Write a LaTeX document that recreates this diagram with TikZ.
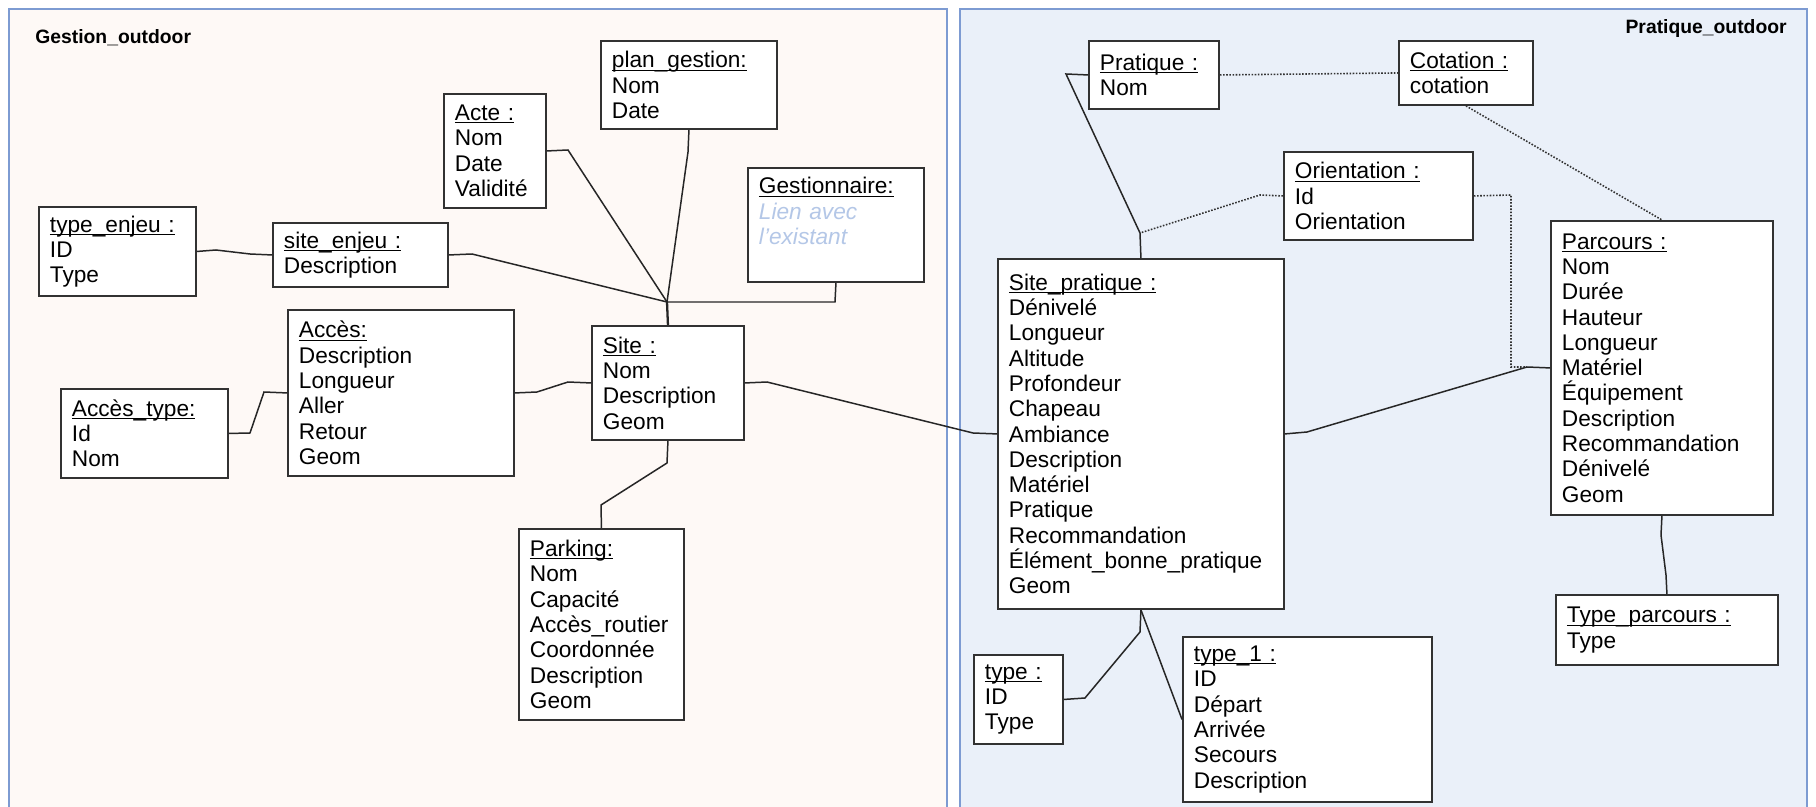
\documentclass[tikz,border=0pt]{standalone}
\usepackage{fontspec}
\setmainfont{Liberation Sans}
\usepackage{xcolor}
\usetikzlibrary{positioning, calc}
\definecolor{gestfill}{RGB}{254, 249, 246}
\definecolor{pratfill}{RGB}{234, 240, 249}
\definecolor{panelline}{RGB}{125, 155, 210}
\definecolor{hintblue}{RGB}{180, 199, 231}
\definecolor{boxline}{RGB}{50, 50, 50}
\newcommand{\ulname}[1]{\setbox0\hbox{#1}\rlap{\rule[-1.6pt]{\wd0}{0.6pt}}\box0}
\tikzstyle{entity} = [rectangle, draw=boxline, line width=1.1pt, fill=white, anchor=north west, align=left, inner xsep=0.22cm, inner ysep=0pt, text=black, font=\fontsize{12.9}{14.4}\selectfont]
\tikzstyle{link} = [line width=0.85pt, draw=black!85]
\tikzstyle{dotlink} = [line width=0.9pt, draw=black!80, dash pattern=on 0.9pt off 0.9pt]
\tikzstyle{panel} = [draw=panelline, line width=1pt]
\tikzstyle{paneltitle} = [font=\fontsize{11}{13}\selectfont\bfseries, inner sep=0pt, text=black]

\begin{document}
\begin{tikzpicture}[x=0.02cm, y=-0.02cm]
\useasboundingbox (0,0) rectangle (1816,807);
\clip (0,0) rectangle (1816,807);

% Panels
\draw [panel, fill=gestfill] (9,9) rectangle (947,840);
\draw [panel, fill=pratfill] (960,9) rectangle (1807,840);
\node (gtitle) [paneltitle, anchor=west] at (35,38) {Gestion\_outdoor};
\node (ptitle) [paneltitle, anchor=east] at (1787,29) {Pratique\_outdoor};

% Gestion side
\node (plan) [entity, minimum width=3.52cm, minimum height=1.76cm, text width=3.08cm] at (600,40) {\ulname{plan\_gestion:}\\Nom\\Date};
\node (acte) [entity, minimum width=2.04cm, minimum height=2.28cm, text width=1.60cm] at (443,93) {\ulname{Acte :}\\Nom\\Date\\Validité};
\node (gest) [entity, minimum width=3.52cm, minimum height=2.28cm, text width=3.08cm, text depth=44.7pt] at (747,167) {\ulname{Gestionnaire:}\\{\color{hintblue}\itshape Lien avec}\\{\color{hintblue}\itshape l'existant}};
\node (typeenjeu) [entity, minimum width=3.14cm, minimum height=1.78cm, text width=2.70cm] at (38,206) {\ulname{type\_enjeu :}\\ID\\Type};
\node (siteenjeu) [entity, minimum width=3.50cm, minimum height=1.28cm, text width=3.06cm] at (272,222) {\ulname{site\_enjeu :}\\Description};
\node (acces) [entity, minimum width=4.52cm, minimum height=3.32cm, text width=4.08cm] at (287,309) {\ulname{Accès:}\\Description\\Longueur\\Aller\\Retour\\Geom};
\node (accestype) [entity, minimum width=3.34cm, minimum height=1.78cm, text width=2.90cm] at (60,388) {\ulname{Accès\_type:}\\Id\\Nom};
\node (site) [entity, minimum width=3.04cm, minimum height=2.28cm, text width=2.60cm] at (591,325) {\ulname{Site :}\\Nom\\Description\\Geom};
\node (parking) [entity, minimum width=3.30cm, minimum height=3.82cm, text width=2.86cm] at (518,528) {\ulname{Parking:}\\Nom\\Capacité\\Accès\_routier\\Coordonnée\\Description\\Geom};

% Pratique side
\node (pratique) [entity, minimum width=2.60cm, minimum height=1.36cm, text width=2.16cm] at (1088,40) {\ulname{Pratique :}\\Nom};
\node (cotation) [entity, minimum width=2.68cm, minimum height=1.28cm, text width=2.24cm] at (1398,40) {\ulname{Cotation :}\\cotation};
\node (orient) [entity, minimum width=3.78cm, minimum height=1.76cm, text width=3.34cm] at (1283,151) {\ulname{Orientation :}\\Id\\Orientation};
\node (sitepratique) [entity, minimum width=5.72cm, minimum height=7.00cm, text width=5.28cm] at (997,258) {\ulname{Site\_pratique :}\\Dénivelé\\Longueur\\Altitude\\Profondeur\\Chapeau\\Ambiance\\Description\\Matériel\\Pratique\\Recommandation\\Élément\_bonne\_pratique\\Geom};
\node (parcours) [entity, minimum width=4.44cm, minimum height=5.88cm, text width=4.00cm] at (1550,220) {\ulname{Parcours :}\\Nom\\Durée\\Hauteur\\Longueur\\Matériel\\Équipement\\Description\\Recommandation\\Dénivelé\\Geom};
\node (typeparcours) [entity, minimum width=4.44cm, minimum height=1.40cm, text width=4.00cm] at (1555,594) {\ulname{Type\_parcours :}\\Type};
\node (type) [entity, minimum width=1.78cm, minimum height=1.78cm, text width=1.34cm] at (973,654) {\ulname{type :}\\ID\\Type};
\node (typeun) [entity, minimum width=4.98cm, minimum height=3.30cm, text width=4.54cm] at (1182,636) {\ulname{type\_1 :}\\ID\\Départ\\Arrivée\\Secours\\Description};

% Junctions
\coordinate (hub) at (667,302);
\coordinate (jn) at (1140,233);
\coordinate (pj) at (1527,367);
\coordinate (tj) at (1140,632);

% Gestion links
\draw [link] (typeenjeu.east) -- (216,250) -- (250,254) -- (siteenjeu.west);
\draw [link] (siteenjeu.east) -- (472,254) -- (hub);
\draw [link] (acte.east) -- (568,150) -- (hub);
\draw [link] (plan.south) -- (688,152) -- (hub);
\draw [link] (gest.south) -- (835,302) -- (hub);
\draw [link, line width=1.3pt] (hub) -- (site.north);
\draw [link] (site.west) -- (568,382) -- (537,392) -- (acces.east);
\draw [link] (acces.west) -- (264,392) -- (250,433) -- (accestype.east);
\draw [link] (site.south) -- (667,463) -- (601,505) -- (parking.north);
\draw [link] (site.east) -- (767,382) -- (973,433) -- (sitepratique.west);

% Pratique links
\draw [link] (pratique.west) -- (1066,74) -- (jn) -- (sitepratique.north);
\draw [dotlink] (orient.west) -- (1260,195) -- (jn);
\draw [dotlink] (pratique.east) -- (cotation.west);
\draw [dotlink] (cotation.south) -- (parcours.north);
\draw [dotlink] (orient.east) -- (1511,195) -- (1511,367) -- (pj);
\draw [link] (parcours.west) -- (pj) -- (1307,432) -- (sitepratique.east);
\draw [link] (sitepratique.south) -- (tj) -- (1085,698) -- (type.east);
\draw [link] (sitepratique.south) -- (typeun.west);
\draw [link] (parcours.south) -- (1661,535) -- (1666,575) -- (typeparcours.north);

\end{tikzpicture}
\end{document}
